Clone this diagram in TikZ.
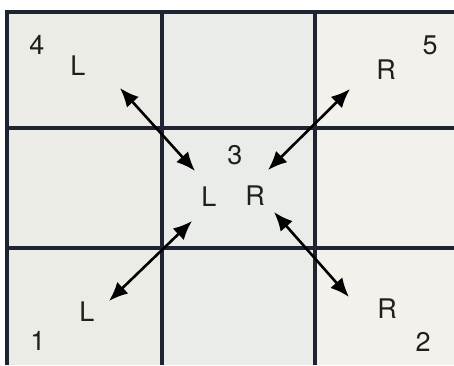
\documentclass[tikz,border=0pt]{standalone}
\usepackage{fontspec}
\setmainfont{TeX Gyre Heros}
\usetikzlibrary{arrows.meta}
\definecolor{cellbg}{HTML}{ECECE6}
\definecolor{cellmid}{HTML}{EAECEA}
\definecolor{cellright}{HTML}{F2F1EB}
\definecolor{gridline}{HTML}{1F2432}
\tikzset{
  gridln/.style={draw=gridline, line width=3.2pt},
  lbl/.style={font=\fontsize{27}{27}\selectfont, inner sep=0pt, text=black!88},
  dbl/.style={line width=2.6pt, {Latex[length=19pt,width=16pt]}-{Latex[length=19pt,width=16pt]}}
}
\begin{document}
\begin{tikzpicture}[x=1pt,y=-1pt]
\useasboundingbox (0,0) rectangle (454,365);
\fill[white] (0,0) rectangle (454,365);
\fill[cellbg] (7,12) rectangle (454,365);
\fill[cellmid] (162,12) rectangle (315,365);
\fill[cellright] (315,12) rectangle (454,365);
% grid
\draw[gridln] (7,365) -- (7,12) -- (454,12);
\draw[gridln] (162,12) -- (162,365);
\draw[gridln] (315,12) -- (315,365);
\draw[gridln] (7,128) -- (454,128);
\draw[gridln] (7,248) -- (454,248);
% labels
\node[lbl] (n4) at (37,45) {4};
\node[lbl] (l4) at (78,66) {L};
\node[lbl] (r5) at (386,70) {R};
\node[lbl] (n5) at (430,45) {5};
\node[lbl] (n3) at (235,155) {3};
\node[lbl] (lc) at (209,197) {L};
\node[lbl] (rc) at (255,196) {R};
\node[lbl] (l1) at (87,312) {L};
\node[lbl] (n1) at (38,341) {1};
\node[lbl] (r2) at (387,309) {R};
\node[lbl] (n2) at (423,342) {2};
% arrow ends
\coordinate (a1s) at (120,88);
\coordinate (a1e) at (195,171);
\coordinate (a2s) at (350,89);
\coordinate (a2e) at (268,170);
\coordinate (a3s) at (192,221);
\coordinate (a3e) at (109,301);
\coordinate (a4s) at (274,212);
\coordinate (a4e) at (349,297);
\draw[dbl] (a1s) -- (a1e);
\draw[dbl] (a2s) -- (a2e);
\draw[dbl] (a3s) -- (a3e);
\draw[dbl] (a4s) -- (a4e);
\end{tikzpicture}
\end{document}
